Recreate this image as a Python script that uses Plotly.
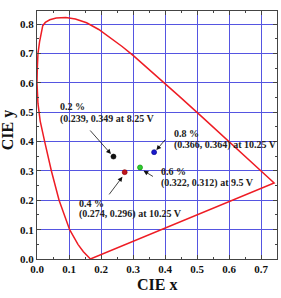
import plotly.graph_objects as go

# Spectral locus, closed by the purple line
locus_x = [0.167, 0.145, 0.128, 0.102, 0.069, 0.045, 0.024, 0.010, 0.003, 0.0, 0.001, 0.003,
           0.008, 0.014, 0.018, 0.026, 0.040, 0.060, 0.090, 0.120, 0.155, 0.193, 0.230,
           0.266, 0.302, 0.337, 0.373, 0.444, 0.513, 0.575, 0.627, 0.666, 0.692, 0.719,
           0.741, 0.167]
locus_y = [0.0, 0.025, 0.05, 0.10, 0.20, 0.30, 0.40, 0.47, 0.53, 0.60, 0.65, 0.70,
           0.74, 0.775, 0.795, 0.806, 0.815, 0.821, 0.823, 0.818, 0.805, 0.782, 0.754,
           0.724, 0.692, 0.659, 0.625, 0.555, 0.487, 0.424, 0.373, 0.334, 0.308, 0.281,
           0.259, 0.0]

# Devices
conc = ["0.2 %", "0.4 %", "0.6 %", "0.8 %"]
cie_x = [0.239, 0.274, 0.322, 0.366]
cie_y = [0.349, 0.296, 0.312, 0.364]
colors = ["#111111", "#c0141e", "#2ecc2e", "#1a1acc"]
line2 = ["(0.239, 0.349 at 8.25 V", "(0.274, 0.296) at 10.25 V",
         "(0.322, 0.312) at 9.5 V", "(0.366, 0.364) at 10.25 V"]

# label placement (data coords): text left, line1 y, line2 y
lab_x = [0.065, 0.125, 0.382, 0.4225]
lab_y1 = [0.518, 0.190, 0.297, 0.428]
lab_y2 = [0.477, 0.152, 0.260, 0.388]
# arrow tail / head
tail_x = [0.162, 0.222, 0.367, 0.404]
tail_y = [0.443, 0.215, 0.278, 0.411]
head_x = [0.231, 0.267, 0.333, 0.373]
head_y = [0.358, 0.280, 0.301, 0.371]

fig = go.Figure()
fig.add_trace(go.Scatter(x=locus_x, y=locus_y, mode="lines",
                         line=dict(color="#ee1c24", width=1.5),
                         hoverinfo="skip", showlegend=False))
fig.add_trace(go.Scatter(x=cie_x, y=cie_y, mode="markers",
                         marker=dict(color=colors, size=5,
                                     line=dict(color=["#000", "#800", "#080", "#008"], width=0.6)),
                         showlegend=False))

font_ann = dict(family="Liberation Serif", size=10, color="#222")
anns = []
for i in range(4):
    anns.append(dict(x=lab_x[i], y=lab_y1[i], xref="x", yref="y", text="<b>%s</b>" % conc[i],
                     showarrow=False, xanchor="left", yanchor="middle", font=font_ann))
    anns.append(dict(x=lab_x[i], y=lab_y2[i], xref="x", yref="y", text="<b>%s</b>" % line2[i],
                     showarrow=False, xanchor="left", yanchor="middle", font=font_ann))
    anns.append(dict(x=head_x[i], y=head_y[i], ax=tail_x[i], ay=tail_y[i], xref="x", yref="y",
                     axref="x", ayref="y", text="", showarrow=True, arrowhead=2,
                     arrowsize=1.2, arrowwidth=0.8, arrowcolor="#111"))

anns.append(dict(x=0.5, y=-0.103, xref="paper", yref="paper", text="<b>CIE x</b>",
                 showarrow=False, xanchor="center", yanchor="middle",
                 font=dict(family="Liberation Serif", size=16, color="#111")))
anns.append(dict(x=-0.12, y=0.52, xref="paper", yref="paper", text="<b>CIE y</b>",
                 showarrow=False, xanchor="center", yanchor="middle", textangle=-90,
                 font=dict(family="Liberation Serif", size=16, color="#111")))
fig.update_layout(annotations=anns)

tickfont = dict(family="Liberation Serif", size=11, color="#111", weight="bold")
axis_common = dict(showline=True, linecolor="#444", linewidth=1, mirror="ticks",
                   ticks="inside", ticklen=4, tickcolor="#444", dtick=0.1,
                   showgrid=True, gridcolor="rgb(85,85,225)", gridwidth=1.2,
                   zeroline=False, tickformat=".1f", tickfont=tickfont,
                   minor=dict(ticks="inside", ticklen=2, dtick=0.05, tickcolor="#444",
                              showgrid=False))

fig.update_xaxes(range=[0, 0.75], tick0=0, **axis_common)
fig.update_yaxes(range=[0, 0.845], tick0=0, **axis_common)

fig.update_layout(width=281, height=298, margin=dict(l=37, r=4, t=11, b=39),
                  plot_bgcolor="white", paper_bgcolor="white")
fig.write_html("out.html")
